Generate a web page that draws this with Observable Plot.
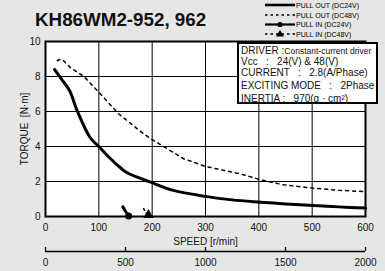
<!DOCTYPE html>
<html><head><meta charset="utf-8">
<script src="https://cdn.jsdelivr.net/npm/d3@7"></script>
<script src="https://cdn.jsdelivr.net/npm/@observablehq/plot@0.6"></script>
<style>
html,body{margin:0;padding:0;background:#e6e6e6;}
body{font-family:"Liberation Sans",Arial,sans-serif;color:#111;}
#wrap{position:relative;width:385px;height:271px;overflow:hidden;}
#wrap svg.plot{position:absolute;left:0;top:0;}
#title{position:absolute;left:35px;top:9px;font-size:18.8px;font-weight:bold;white-space:nowrap;}
#legend{position:absolute;left:0;top:0;}
#info{position:absolute;left:237px;top:42px;width:137px;height:58px;background:#fff;border:2px solid #000;}
#info div{position:absolute;left:2px;white-space:pre;font-family:"Liberation Sans",Arial,sans-serif;font-size:10px;line-height:11px;}
#info .small{font-size:8.5px;}
</style></head><body>
<div id="wrap"></div>
<script>
// ---- data ----
const xTicks = [0, 100, 200, 300, 400, 500, 600];
const yTicks = [0, 2, 4, 6, 8, 10];
const pulseTicks = [0, 500, 1000, 1500, 2000];
const pulsePerSpeed = 2000 / 600;

const pullOut24Speed  = [17, 30, 45, 60, 84, 100, 122, 140, 153, 197, 240, 300, 350, 403, 450, 502, 550, 600];
const pullOut24Torque = [8.4, 7.85, 7.2, 6.0, 4.5, 4.0, 3.3, 2.8, 2.5, 1.96, 1.49, 1.15, 0.95, 0.82, 0.72, 0.63, 0.55, 0.48];

const pullOut48Speed  = [22, 28, 34, 47, 72, 100, 137, 184, 203, 259, 300, 365, 403, 446, 502, 550, 600];
const pullOut48Torque = [8.9, 9.0, 8.9, 8.5, 8.0, 7.1, 5.87, 4.72, 4.34, 3.3, 2.86, 2.44, 2.1, 1.81, 1.62, 1.5, 1.42];

const pullIn24Speed  = [145, 150, 156];
const pullIn24Torque = [0.55, 0.3, 0.03];
const pullIn48Speed  = [184, 188, 193];
const pullIn48Torque = [0.45, 0.25, 0.0];

const legendLabels = ["PULL OUT (DC24V)", "PULL OUT (DC48V)", "PULL IN (DC24V)", "PULL IN (DC48V)"];
const infoLines = [
  ["DRIVER :", "Constant-current driver"],
  ["Vcc   :   24(V) & 48(V)", ""],
  ["CURRENT   :   2.8(A/Phase)", ""],
  ["EXCITING MODE   :   2Phase", ""],
  ["INERTIA :   970(g · cm\u00B2)", ""]
];
const titleText = "KH86WM2-952, 962";
const xLabel = "SPEED [r/min]";
const yLabel = "TORQUE  [N·m]";

const zip = (xs, ys) => xs.map((x, i) => ({speed: x, torque: ys[i]}));
const out24 = zip(pullOut24Speed, pullOut24Torque);
const out48 = zip(pullOut48Speed, pullOut48Torque);
const in24 = zip(pullIn24Speed, pullIn24Torque);
const in48 = zip(pullIn48Speed, pullIn48Torque);

const chart = Plot.plot({
  width: 385, height: 271,
  marginLeft: 45, marginRight: 20, marginTop: 41, marginBottom: 55,
  style: {background: "transparent", fontFamily: "Liberation Sans, Arial, sans-serif", fontSize: "10px", color: "#111"},
  x: {domain: [0, 600]},
  y: {domain: [0, 10]},
  marks: [
    Plot.frame({fill: "white", stroke: null}),
    Plot.gridX(xTicks, {stroke: "#000", strokeOpacity: 1, strokeWidth: 1}),
    Plot.gridY(yTicks, {stroke: "#000", strokeOpacity: 1, strokeWidth: 1}),
    Plot.frame({stroke: "#000", strokeWidth: 2}),
    Plot.line(out48, {x: "speed", y: "torque", stroke: "#000", strokeWidth: 1.5, strokeDasharray: "3,4", curve: "linear"}),
    Plot.line(out24, {x: "speed", y: "torque", stroke: "#000", strokeWidth: 3, curve: "catmull-rom"}),
    Plot.line(in24, {x: "speed", y: "torque", stroke: "#000", strokeWidth: 3}),
    Plot.line(in48, {x: "speed", y: "torque", stroke: "#000", strokeWidth: 1.5, strokeDasharray: "2,3"}),
    Plot.dot(in24.slice(-1), {x: "speed", y: "torque", r: 3.5, fill: "#000", stroke: "none"}),
    Plot.dot(in48.slice(-1), {x: "speed", y: "torque", symbol: "triangle", r: 3.8, dy: -1.5, fill: "#000", stroke: "none"}),
    Plot.axisX(xTicks, {tickSize: 0, tickPadding: 7, label: null, fontSize: 10}),
    Plot.axisY(yTicks, {tickSize: 0, tickPadding: 5, label: yLabel, labelAnchor: "center", labelOffset: 25, labelArrow: "none", fontSize: 10}),
    Plot.text([xLabel], {text: d => d, frameAnchor: "bottom", lineAnchor: "bottom", dy: 28, fontSize: 10, fill: "#111"}),
    Plot.ruleY([0], {dy: 35, stroke: "#000", strokeWidth: 1.3}),
    Plot.axisX(pulseTicks.map(d => d / pulsePerSpeed), {tickSize: 4, tickPadding: 7, dy: 31, label: null, strokeWidth: 1.3, fontSize: 10,
      tickFormat: d => String(Math.round(d * pulsePerSpeed))})
  ]
});

const wrap = document.getElementById("wrap");
wrap.appendChild(chart);

const title = document.createElement("div");
title.id = "title";
title.textContent = titleText;
wrap.appendChild(title);

// legend
const ns = "http://www.w3.org/2000/svg";
const lg = document.createElementNS(ns, "svg");
lg.setAttribute("id", "legend");
lg.setAttribute("width", 385);
lg.setAttribute("height", 40);
const rowsY = [5, 15, 24.5, 34];
const rowStyle = [
  {w: 2.6, dash: null, marker: null},
  {w: 1.3, dash: "2.5,3", marker: null},
  {w: 2.2, dash: null, marker: "dot"},
  {w: 1.3, dash: "2.5,3", marker: "tri"}
];
legendLabels.forEach((lab, i) => {
  const y = rowsY[i], s = rowStyle[i];
  const ln = document.createElementNS(ns, "line");
  ln.setAttribute("x1", 265); ln.setAttribute("x2", 295);
  ln.setAttribute("y1", y); ln.setAttribute("y2", y);
  ln.setAttribute("stroke", "#000"); ln.setAttribute("stroke-width", s.w);
  if (s.dash) ln.setAttribute("stroke-dasharray", s.dash);
  lg.appendChild(ln);
  if (s.marker === "dot") {
    const c = document.createElementNS(ns, "circle");
    c.setAttribute("cx", 280); c.setAttribute("cy", y); c.setAttribute("r", 2.6);
    lg.appendChild(c);
  } else if (s.marker === "tri") {
    const p = document.createElementNS(ns, "path");
    p.setAttribute("d", `M280,${y - 4}L284,${y + 2.5}L276,${y + 2.5}Z`);
    lg.appendChild(p);
  }
  const t = document.createElementNS(ns, "text");
  t.setAttribute("x", 296); t.setAttribute("y", y + 2.6);
  t.setAttribute("font-size", "7px");
  t.setAttribute("font-family", "Liberation Sans, Arial, sans-serif");
  t.textContent = lab;
  lg.appendChild(t);
});
wrap.appendChild(lg);

// info box
const info = document.createElement("div");
info.id = "info";
const tops = [1, 12, 22.5, 35.5, 49];
infoLines.forEach((pair, i) => {
  const d = document.createElement("div");
  d.style.top = tops[i] + "px";
  d.textContent = pair[0];
  if (pair[1]) {
    const sp = document.createElement("span");
    sp.className = "small";
    sp.textContent = pair[1];
    d.appendChild(sp);
  }
  info.appendChild(d);
});
wrap.appendChild(info);
</script>
</body></html>
